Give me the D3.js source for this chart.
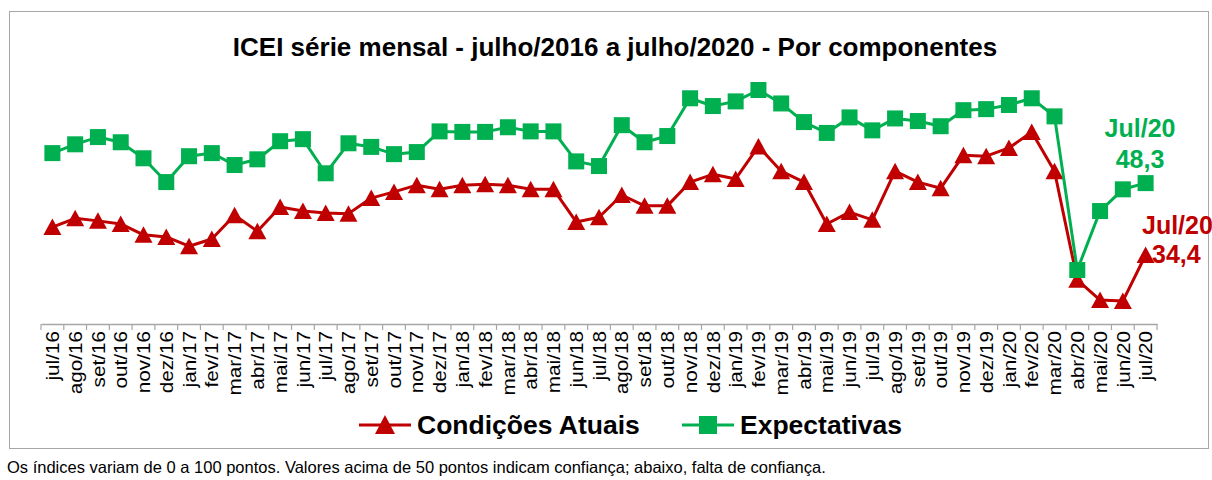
<!DOCTYPE html>
<html><head><meta charset="utf-8">
<script src="https://cdn.jsdelivr.net/npm/d3@7"></script>
<style>body{margin:0;background:#fff;} svg{display:block;font-family:"Liberation Sans",Arial,sans-serif;}</style>
</head><body>
<svg id="c" width="1212" height="480"></svg>
<script>
const months = ["jul/16","ago/16","set/16","out/16","nov/16","dez/16","jan/17","fev/17","mar/17","abr/17","mai/17","jun/17","jul/17","ago/17","set/17","out/17","nov/17","dez/17","jan/18","fev/18","mar/18","abr/18","mai/18","jun/18","jul/18","ago/18","set/18","out/18","nov/18","dez/18","jan/19","fev/19","mar/19","abr/19","mai/19","jun/19","jul/19","ago/19","set/19","out/19","nov/19","dez/19","jan/20","fev/20","mar/20","abr/20","mai/20","jun/20","jul/20"];
const condicoesAtuais = [39.8,41.5,41.0,40.4,38.3,37.9,36.1,37.5,42.1,39.0,43.7,42.9,42.5,42.4,45.4,46.6,47.9,47.1,47.9,48.1,47.9,47.1,47.1,40.8,41.7,46.0,43.9,43.9,48.5,50.0,49.1,55.4,50.6,48.5,40.4,42.7,41.2,50.6,48.5,47.3,53.7,53.5,55.1,58.2,50.6,29.6,25.7,25.5,34.4];
const expectativas = [54.1,55.8,57.2,56.2,53.1,48.5,53.5,54.1,51.8,52.9,56.4,56.8,50.2,56.0,55.3,53.9,54.3,58.3,58.2,58.2,59.1,58.3,58.3,52.5,51.6,59.5,56.2,57.4,64.7,63.2,64.1,66.3,63.7,60.1,58.0,61.0,58.5,60.8,60.3,59.3,62.4,62.6,63.4,64.7,61.2,31.5,42.9,47.1,48.3];
const seriesNames = ["Condições Atuais","Expectativas"];
const title = "ICEI série mensal - julho/2016 a julho/2020 - Por componentes";
const footnote = "Os índices variam de 0 a 100 pontos. Valores acima de 50 pontos indicam confiança; abaixo, falta de confiança.";
const lastLabel = "Jul/20";

const RED = "#C00000", GREEN = "#00B050";
const svg = d3.select("#c");

// frame
svg.append("rect").attr("x",9.5).attr("y",11.5).attr("width",1199).attr("height",437)
  .attr("fill","none").attr("stroke","#a6a6a6").attr("stroke-width",1);

svg.append("text").attr("x",615).attr("y",56).attr("text-anchor","middle")
  .attr("font-size",26).attr("font-weight","bold").attr("fill","#000").text(title);

const x = d3.scaleBand().domain(months).range([41,1157]).padding(0);
const y = d3.scaleLinear().domain([20,75]).range([329.5,45]);

// axis
const axisY = 324;
const axis = d3.axisBottom(x).tickSize(0).tickPadding(0);
const gAxis = svg.append("g").attr("transform",`translate(0,${axisY})`).call(axis);
gAxis.select(".domain").attr("stroke","#a6a6a6").attr("stroke-width",1.5);
gAxis.selectAll(".tick text")
  .attr("font-size",18.5).attr("fill","#000").attr("font-family","Liberation Sans, Arial, sans-serif")
  .attr("text-anchor","end").attr("dy","0.36em")
  .attr("transform","translate(0,7) rotate(-90) scale(1.12,1)").attr("x",0).attr("y",0);
const bounds = months.map(m=>x(m)).concat([x.range()[1]]);
gAxis.selectAll(".btick").data(bounds).enter().append("line")
  .attr("x1",d=>d).attr("x2",d=>d).attr("y1",0).attr("y2",6)
  .attr("stroke","#a6a6a6").attr("stroke-width",1.2);

const cx = m => x(m) + x.bandwidth()/2;
const line = d3.line().x((d,i)=>cx(months[i])).y(d=>y(d));

function drawSeries(vals,color,shape){
  svg.append("path").datum(vals).attr("d",line).attr("fill","none")
    .attr("stroke",color).attr("stroke-width",3).attr("stroke-linejoin","round");
  const g = svg.append("g");
  vals.forEach((v,i)=>{
    const px = cx(months[i]), py = y(v);
    if(shape==="tri"){
      g.append("path").attr("d",`M${px},${py-8.5}L${px+9},${py+8}L${px-9},${py+8}Z`).attr("fill",color);
    } else {
      g.append("rect").attr("x",px-8).attr("y",py-8).attr("width",16).attr("height",16).attr("fill",color);
    }
  });
}
drawSeries(condicoesAtuais,RED,"tri");
drawSeries(expectativas,GREEN,"sq");

// data labels
const last = months.length-1;
const fmt = v => d3.format(".1f")(v).replace(".",",");
svg.append("text").attr("x",1140).attr("y",137).attr("text-anchor","middle")
  .attr("font-size",25).attr("font-weight","bold").attr("fill",GREEN).text(lastLabel);
svg.append("text").attr("x",1140).attr("y",168).attr("text-anchor","middle")
  .attr("font-size",25).attr("font-weight","bold").attr("fill",GREEN).text(fmt(expectativas[last]));
svg.append("text").attr("x",1142).attr("y",234).attr("text-anchor","start")
  .attr("font-size",25).attr("font-weight","bold").attr("fill",RED).text(lastLabel);
svg.append("text").attr("x",1152).attr("y",263).attr("text-anchor","start")
  .attr("font-size",25).attr("font-weight","bold").attr("fill",RED).text(fmt(condicoesAtuais[last]));

// legend
const ly = 425;
const leg = [{name:seriesNames[0],color:RED,shape:"tri",x0:359,x1:411,tx:417},{name:seriesNames[1],color:GREEN,shape:"sq",x0:682,x1:734,tx:740}];
leg.forEach(l=>{
  svg.append("line").attr("x1",l.x0).attr("x2",l.x1).attr("y1",ly).attr("y2",ly).attr("stroke",l.color).attr("stroke-width",3);
  const mx = (l.x0+l.x1)/2;
  if(l.shape==="tri") svg.append("path").attr("d",`M${mx},${ly-10}L${mx+10},${ly+9}L${mx-10},${ly+9}Z`).attr("fill",l.color);
  else svg.append("rect").attr("x",mx-9).attr("y",ly-9).attr("width",18).attr("height",18).attr("fill",l.color);
  svg.append("text").attr("x",l.tx).attr("y",ly+9).attr("font-size",26.5).attr("font-weight","bold").attr("fill","#000").text(l.name);
});

svg.append("text").attr("x",7).attr("y",473).attr("font-size",16.5).attr("fill","#000").text(footnote);
</script>
</body></html>
